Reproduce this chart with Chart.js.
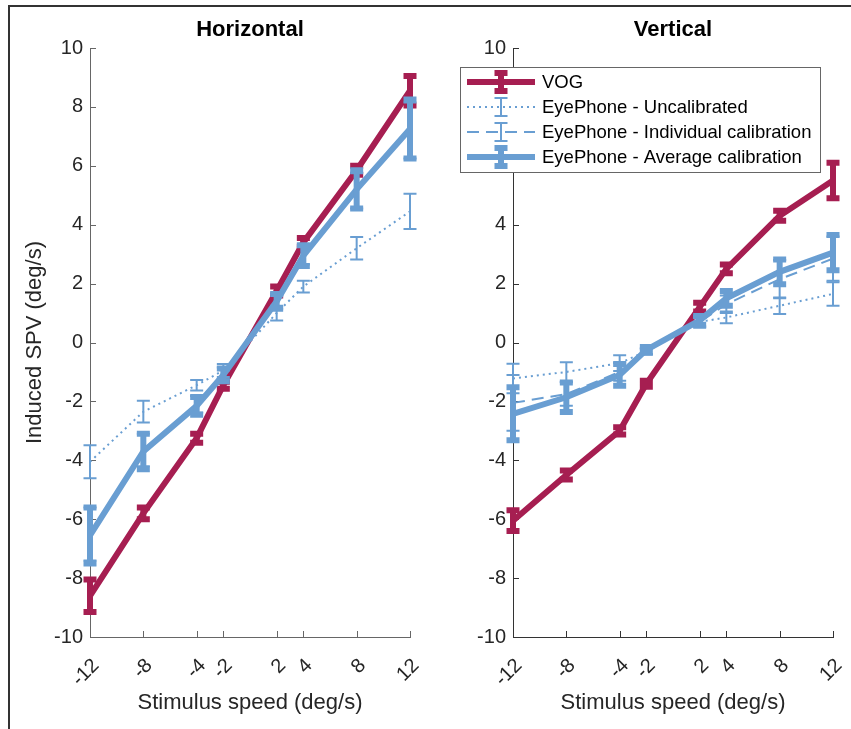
<!DOCTYPE html>
<html>
<head>
<meta charset="utf-8">
<script src="https://cdn.jsdelivr.net/npm/chart.js@4.4.1/dist/chart.umd.min.js"></script>
<style>
body { margin: 0; background: #fff; }
#wrap { position: relative; width: 851px; height: 729px; overflow: hidden; }
#frame { position: absolute; left: 8px; top: 5px; width: 900px; height: 800px;
         border-top: 2px solid #333; border-left: 2px solid #333; }
canvas { position: absolute; top: 0; }
#left { left: 0; }
#right { left: 430px; }
</style>
</head>
<body>
<div id="wrap">
<div id="frame"></div>
<canvas id="left" width="430" height="729"></canvas>
<canvas id="right" width="421" height="729"></canvas>
</div>
<script>
// stimulus speeds (deg/s), also used as x tick positions
const speeds = [-12, -8, -4, -2, 2, 4, 8, 12];

const seriesNames = ['VOG', 'EyePhone - Uncalibrated', 'EyePhone - Individual calibration', 'EyePhone - Average calibration'];

// Horizontal panel: mean and error
const hVog = [-8.6, -5.8, -3.25, -1.45, 1.75, 3.4, 5.85, 8.55];
const hVogErr = [0.55, 0.2, 0.15, 0.12, 0.15, 0.15, 0.15, 0.5];
const hUncal = [-4.05, -2.35, -1.45, -0.95, 1.0, 1.9, 3.2, 4.45];
const hUncalErr = [0.56, 0.37, 0.18, 0.22, 0.25, 0.2, 0.38, 0.6];
const hIndiv = [-6.5, -3.65, -2.1, -1.05, 1.4, 2.95, 5.15, 7.2];
const hIndivErr = [0.9, 0.55, 0.28, 0.2, 0.25, 0.3, 0.6, 0.95];
const hAvg = [-6.55, -3.7, -2.15, -1.1, 1.4, 2.95, 5.2, 7.25];
const hAvgErr = [0.95, 0.6, 0.3, 0.22, 0.25, 0.35, 0.65, 1.0];

// Vertical panel
const vVog = [-6.05, -4.5, -3.0, -1.4, 1.2, 2.5, 4.3, 5.5];
const vVogErr = [0.35, 0.15, 0.12, 0.1, 0.15, 0.15, 0.17, 0.6];
const vUncal = [-1.22, -1.0, -0.7, -0.3, 0.7, 0.85, 1.25, 1.65];
const vUncalErr = [0.5, 0.33, 0.27, 0.1, 0.15, 0.2, 0.28, 0.4];
const vIndiv = [-2.05, -1.75, -1.0, -0.3, 0.7, 1.3, 2.15, 2.85];
const vIndivErr = [0.95, 0.4, 0.3, 0.1, 0.2, 0.3, 0.65, 0.75];
const vAvg = [-2.42, -1.86, -1.1, -0.25, 0.75, 1.5, 2.4, 3.05];
const vAvgErr = [0.9, 0.5, 0.37, 0.1, 0.15, 0.25, 0.42, 0.6];

const crimson = '#A61E51';
const blue = '#699ED2';
const font = '"Liberation Sans", Arial, Helvetica, sans-serif';
const textColor = '#262626';

const seriesStyles = [
    { color: crimson, width: 6, dash: [] },
    { color: blue, width: 2, dash: [2, 4] },
    { color: blue, width: 2, dash: [12, 7] },
    { color: blue, width: 6, dash: [] }
];

function makeDatasets(groups) {
    return groups.map(([vals, errs], i) => ({
        label: seriesNames[i],
        data: speeds.map((s, k) => ({ x: s, y: vals[k] })),
        errors: errs,
        borderColor: seriesStyles[i].color,
        borderWidth: seriesStyles[i].width,
        borderDash: seriesStyles[i].dash,
        pointRadius: 0,
        fill: false,
        tension: 0,
        clip: false,
        order: 3 - i
    }));
}

function drawErrorBar(ctx, px, yTop, yBot) {
    const half = 6.5;
    ctx.beginPath();
    ctx.moveTo(px, yTop);
    ctx.lineTo(px, yBot);
    ctx.moveTo(px - half, yTop);
    ctx.lineTo(px + half, yTop);
    ctx.moveTo(px - half, yBot);
    ctx.lineTo(px + half, yBot);
    ctx.stroke();
}

const errorBars = {
    id: 'errorBars',
    afterDatasetDraw(chart, args) {
        const ds = chart.data.datasets[args.index];
        if (!ds.errors) return;
        const { ctx, scales: { x, y } } = chart;
        ctx.save();
        ctx.strokeStyle = ds.borderColor;
        ctx.lineWidth = ds.borderWidth;
        ctx.lineCap = 'butt';
        ctx.setLineDash([]);
        ds.data.forEach((p, i) => {
            const px = x.getPixelForValue(p.x);
            drawErrorBar(ctx, px, y.getPixelForValue(p.y + ds.errors[i]), y.getPixelForValue(p.y - ds.errors[i]));
        });
        ctx.restore();
    }
};

const inwardTicks = {
    id: 'inwardTicks',
    beforeDatasetsDraw(chart, args, opts) {
        const { ctx, chartArea: a, scales: { x, y } } = chart;
        ctx.save();
        ctx.strokeStyle = opts.color;
        ctx.lineWidth = 1;
        x.ticks.forEach(t => {
            const px = Math.round(x.getPixelForValue(t.value)) + 0.5;
            ctx.beginPath();
            ctx.moveTo(px, a.bottom);
            ctx.lineTo(px, a.bottom - 6);
            ctx.stroke();
        });
        y.ticks.forEach(t => {
            const py = Math.round(y.getPixelForValue(t.value)) + 0.5;
            ctx.beginPath();
            ctx.moveTo(a.left, py);
            ctx.lineTo(a.left + 6, py);
            ctx.stroke();
        });
        ctx.restore();
    }
};

const legendBox = {
    id: 'legendBox',
    afterDraw(chart, args, opts) {
        if (!opts.show) return;
        const { ctx } = chart;
        ctx.save();
        ctx.fillStyle = '#fff';
        ctx.fillRect(30, 67, 360, 105);
        ctx.strokeStyle = '#666';
        ctx.lineWidth = 1;
        ctx.strokeRect(30.5, 67.5, 360, 105);
        seriesNames.forEach((name, i) => {
            const st = seriesStyles[i];
            const ry = 82 + 25 * i;
            ctx.strokeStyle = st.color;
            ctx.lineWidth = st.width;
            ctx.setLineDash(st.dash);
            ctx.beginPath();
            ctx.moveTo(37, ry);
            ctx.lineTo(105, ry);
            ctx.stroke();
            ctx.setLineDash([]);
            drawErrorBar(ctx, 71, ry - 9, ry + 9);
            ctx.fillStyle = '#000';
            ctx.font = '18.5px ' + font;
            ctx.textBaseline = 'middle';
            ctx.textAlign = 'left';
            ctx.fillText(name, 112, ry + 1);
        });
        ctx.restore();
    }
};

function makeChart(canvasId, title, groups, yWidth, padRight, axisColor, showYTitle, showLegend) {
    return new Chart(document.getElementById(canvasId), {
        type: 'line',
        data: { datasets: makeDatasets(groups) },
        options: {
            responsive: false,
            animation: false,
            devicePixelRatio: 1,
            events: [],
            layout: { padding: { left: 0, right: padRight, top: 0, bottom: 0 } },
            scales: {
                x: {
                    type: 'linear',
                    min: -12,
                    max: 12,
                    afterBuildTicks: s => { s.ticks = speeds.map(v => ({ value: v })); },
                    afterFit: s => {
                        s.height = 92;
                        s.paddingLeft = 0;
                        s.paddingRight = 0;
                    },
                    ticks: {
                        autoSkip: false,
                        minRotation: 45,
                        maxRotation: 45,
                        padding: 9,
                        labelOffset: 6,
                        color: textColor,
                        font: { family: font, size: 20 }
                    },
                    grid: { display: false },
                    border: { color: axisColor, width: 1 },
                    title: {
                        display: true,
                        text: 'Stimulus speed (deg/s)',
                        color: textColor,
                        font: { family: font, size: 22, lineHeight: 1 },
                        padding: { top: 0, bottom: 15 }
                    }
                },
                y: {
                    min: -10,
                    max: 10,
                    afterFit: s => {
                        s.width = yWidth;
                        s.paddingTop = 0;
                        s.paddingBottom = 0;
                    },
                    ticks: {
                        stepSize: 2,
                        padding: 7,
                        color: textColor,
                        font: { family: font, size: 20 }
                    },
                    grid: { display: false, drawTicks: false },
                    border: { color: axisColor, width: 1 },
                    title: {
                        display: showYTitle,
                        text: 'Induced SPV (deg/s)',
                        color: textColor,
                        font: { family: font, size: 22, lineHeight: 1 },
                        padding: { top: 24, bottom: 0 }
                    }
                }
            },
            plugins: {
                legend: { display: false },
                tooltip: { enabled: false },
                title: {
                    display: true,
                    text: title,
                    fullSize: false,
                    color: '#000',
                    font: { family: font, size: 22, weight: 'bold', lineHeight: 1 },
                    padding: { top: 19, bottom: 7 }
                },
                inwardTicks: { color: axisColor },
                legendBox: { show: showLegend }
            }
        },
        plugins: [errorBars, inwardTicks, legendBox]
    });
}

makeChart('left', 'Horizontal',
    [[hVog, hVogErr], [hUncal, hUncalErr], [hIndiv, hIndivErr], [hAvg, hAvgErr]],
    90, 20, '#666', true, false);
makeChart('right', 'Vertical',
    [[vVog, vVogErr], [vUncal, vUncalErr], [vIndiv, vIndivErr], [vAvg, vAvgErr]],
    83, 18, '#333', false, true);
</script>
</body>
</html>
